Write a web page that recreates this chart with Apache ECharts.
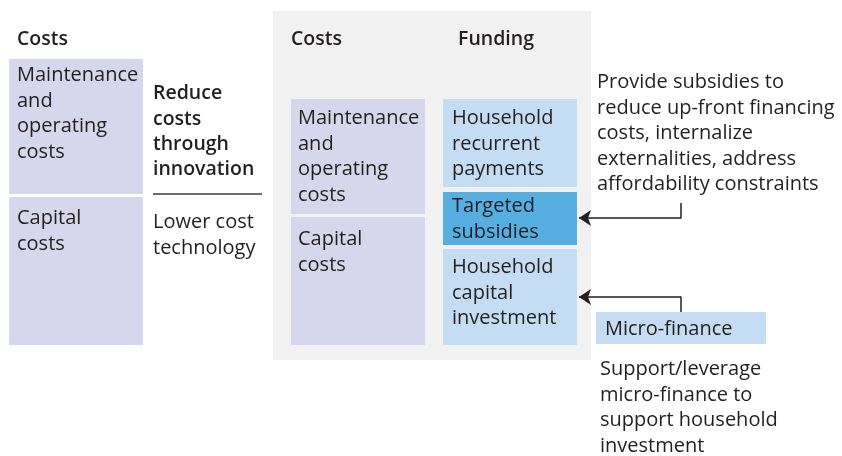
<!DOCTYPE html>
<html>
<head>
<meta charset="utf-8">
<script src="https://cdn.jsdelivr.net/npm/echarts@6/dist/echarts.min.js"></script>
<style>
  html, body { margin: 0; padding: 0; background: #fff; }
  #chart { width: 842px; height: 456px; }
</style>
</head>
<body>
<div id="chart"></div>
<script>
  // diagram units = pixels of the 842x456 canvas, y grows downward
  // boxes: [x0, y0, x1, y1, colourIndex]
  const panelBox = [[273, 11, 591, 360, 0]]
  const costBoxes = [
    [9, 59, 143, 194, 1],
    [9, 197, 143, 345, 1],
    [291, 99, 425, 214, 1],
    [291, 217, 425, 345, 1]
  ]
  const fundingBoxes = [
    [443, 99, 577, 187, 2],
    [443, 192, 577, 245, 3],
    [443, 249, 577, 345, 2],
    [596, 312, 766, 344, 2]
  ]
  const boxColors = ['#f1f1f1', '#d6d6ec', '#c5ddf2', '#56aee1']

  // text: [x, baseline of first line, label]
  const headerTexts = [
    [17, 45, 'Costs'],
    [153, 99, 'Reduce\ncosts\nthrough\ninnovation'],
    [291, 45, 'Costs'],
    [458, 45, 'Funding']
  ]
  const bodyTexts = [
    [17, 81, 'Maintenance\nand\noperating\ncosts'],
    [17, 224, 'Capital\ncosts'],
    [153, 228, 'Lower cost\ntechnology'],
    [298, 124, 'Maintenance\nand\noperating\ncosts'],
    [298, 245, 'Capital\ncosts'],
    [452, 124, 'Household\nrecurrent\npayments'],
    [452, 212, 'Targeted\nsubsidies'],
    [452, 273, 'Household\ncapital\ninvestment'],
    [597, 88, 'Provide subsidies to\nreduce up-front financing\ncosts, internalize\nexternalities, address\naffordability constraints'],
    [605, 335, 'Micro-finance'],
    [600, 375, 'Support/leverage\nmicro-finance to\nsupport household\ninvestment']
  ]

  // connectors
  const dividerLine = [[[153, 194], [262, 194]]]
  const arrowStems = [
    [[681, 203], [681, 218.5]],
    [[681, 312], [681, 296.5]]
  ]
  const arrowHeads = [
    [[681, 218], [579, 218]],
    [[681, 297], [579, 297]]
  ]

  const FONT = '"Open Sans", "Noto Sans", sans-serif'
  const chart = echarts.init(document.getElementById('chart'))

  function boxSeries(data) {
    return {
      type: 'custom',
      silent: true,
      data: data,
      renderItem: function (params, api) {
        const p0 = api.coord([api.value(0), api.value(1)])
        const p1 = api.coord([api.value(2), api.value(3)])
        return {
          type: 'rect',
          shape: { x: p0[0], y: p0[1], width: p1[0] - p0[0], height: p1[1] - p0[1] },
          style: { fill: boxColors[api.value(4)] }
        }
      }
    }
  }

  function textSeries(data, weight, size) {
    return {
      type: 'custom',
      silent: true,
      data: data,
      dimensions: ['x', 'y', { name: 'label', type: 'ordinal' }],
      renderItem: function (params, api) {
        const item = data[params.dataIndex]
        const p = api.coord([item[0], item[1]])
        return {
          type: 'text',
          style: {
            text: item[2],
            x: p[0],
            y: p[1] - 18,
            align: 'left',
            verticalAlign: 'top',
            fill: '#231f20',
            font: weight + ' ' + size + 'px ' + FONT,
            lineHeight: 25.4
          }
        }
      }
    }
  }

  function lineSeries(data, color, width, symbol) {
    return {
      type: 'lines',
      coordinateSystem: 'cartesian2d',
      silent: true,
      symbol: symbol,
      symbolSize: [8, 12],
      data: data.map(c => ({ coords: c })),
      lineStyle: { color: color, width: width, opacity: 1, curveness: 0 }
    }
  }

  const option = {
    animation: false,
    grid: { left: 0, right: 0, top: 0, bottom: 0 },
    xAxis: { type: 'value', min: 0, max: 842, show: false },
    yAxis: { type: 'value', min: 0, max: 456, inverse: true, show: false },
    series: [
      boxSeries(panelBox),
      boxSeries(costBoxes),
      boxSeries(fundingBoxes),
      lineSeries(dividerLine, '#6d6d6d', 2, ['none', 'none']),
      lineSeries(arrowStems, '#231f20', 1.5, ['none', 'none']),
      lineSeries(arrowHeads, '#231f20', 1.5, ['none', 'arrow']),
      textSeries(headerTexts, '600', 19.5),
      textSeries(bodyTexts, 'normal', 20)
    ]
  }

  chart.setOption(option)
</script>
</body>
</html>
